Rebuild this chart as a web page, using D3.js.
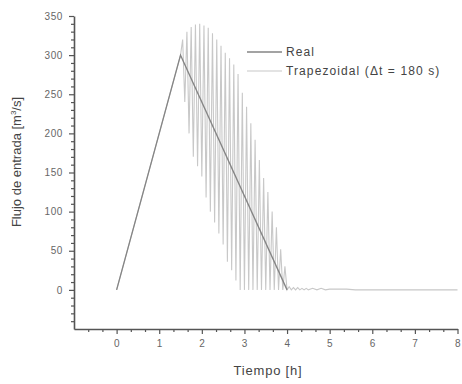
<!DOCTYPE html>
<html>
<head>
<meta charset="utf-8">
<script src="https://cdn.jsdelivr.net/npm/d3@7"></script>
<style>
  body { margin: 0; background: #fff; }
  svg { display: block; font-family: Arial, "Liberation Sans", sans-serif; }
  .axis path, .axis line { stroke: #555; }
  .axis text { fill: #666; font-size: 10px; letter-spacing: 0.6px; }
  .axis-title { fill: #444; font-size: 13px; }
  .legend text { fill: #444; font-size: 12px; letter-spacing: 1.1px; }
</style>
</head>
<body>
<svg width="462" height="384"></svg>
<script>
// Real hydrograph (triangular)
var realTime = [0, 1.5, 4];
var realFlow = [0, 300, 0];

// Trapezoidal routing, dt = 180 s (0.05 h)
var trapTime = [0, 1.5,
  1.55, 1.60, 1.65, 1.70, 1.75, 1.80, 1.85, 1.90, 1.95, 2.00,
  2.05, 2.10, 2.15, 2.20, 2.25, 2.30, 2.35, 2.40, 2.45, 2.50,
  2.55, 2.60, 2.65, 2.70, 2.75, 2.80, 2.85, 2.90, 2.95, 3.00,
  3.05, 3.10, 3.15, 3.20, 3.25, 3.30, 3.35, 3.40, 3.45, 3.50,
  3.55, 3.60, 3.65, 3.70, 3.75, 3.80, 3.85, 3.90, 3.95, 4.00,
  4.05, 4.10, 4.15, 4.20, 4.25, 4.30, 4.35, 4.40, 4.45, 4.50,
  4.60, 4.70, 4.80, 4.90, 5.00, 5.20, 5.40, 5.60, 8.00];
var trapFlow = [0, 300,
  320, 240, 330, 200, 336, 170, 339, 158, 340, 145,
  338, 118, 335, 100, 328, 86, 320, 72, 312, 58,
  303, 36, 296, 25, 288, 12, 276, 0, 252, 0,
  234, 0, 213, 0, 192, 0, 166, 0, 143, 0,
  125, 0, 100, 0, 80, 0, 52, 0, 30, 0,
  4, 0, 3, 0, 3, 0, 2, 0, 2, 0,
  2, 0, 2, 0, 1, 1, 1, 0, 0];

var xMajor = [0, 1, 2, 3, 4, 5, 6, 7, 8];
var yMajor = [0, 50, 100, 150, 200, 250, 300, 350];

var svg = d3.select('svg');

var xScale = d3.scaleLinear().domain([-1, 8]).range([74, 457.5]);
var yScale = d3.scaleLinear().domain([-50, 350]).range([329, 16]);

var xMinor = d3.range(-1, 8.01, 1 / 3).filter(function(d) {
  return Math.abs(d - Math.round(d)) > 0.01;
});
var yMinor = d3.range(-50, 351, 10).filter(function(d) { return d % 50 !== 0; });

// minor ticks
svg.append('g')
  .attr('class', 'axis')
  .attr('transform', 'translate(0,' + yScale(-50) + ')')
  .call(d3.axisBottom(xScale).tickValues(xMinor).tickSize(3).tickFormat(''))
  .select('.domain').remove();
svg.append('g')
  .attr('class', 'axis')
  .attr('transform', 'translate(' + xScale(-1) + ',0)')
  .call(d3.axisLeft(yScale).tickValues(yMinor).tickSize(3).tickFormat(''))
  .select('.domain').remove();

// major ticks + lines
svg.append('g')
  .attr('class', 'axis')
  .attr('transform', 'translate(0,' + yScale(-50) + ')')
  .call(d3.axisBottom(xScale).tickValues(xMajor).tickSize(5).tickSizeOuter(0).tickPadding(6));
svg.append('g')
  .attr('class', 'axis')
  .attr('transform', 'translate(' + xScale(-1) + ',0)')
  .call(d3.axisLeft(yScale).tickValues(yMajor).tickSize(5).tickSizeOuter(0).tickPadding(6));
svg.selectAll('.axis .domain').attr('stroke-width', 1.6);
svg.selectAll('.axis line').attr('stroke-width', 1.2);

// axis titles
svg.append('text')
  .attr('class', 'axis-title')
  .attr('x', 268).attr('y', 375)
  .attr('text-anchor', 'middle')
  .style('letter-spacing', '0.8px')
  .text('Tiempo [h]');

var yt = svg.append('text')
  .attr('class', 'axis-title')
  .attr('transform', 'translate(21,162) rotate(-90)')
  .attr('text-anchor', 'middle');
yt.append('tspan').text('Flujo de entrada [m');
yt.append('tspan').attr('dy', -5).attr('font-size', '8px').text('3');
yt.append('tspan').attr('dy', 5).text('/s]');

var line = d3.line()
  .x(function(d) { return xScale(d[0]); })
  .y(function(d) { return yScale(d[1]); });

var trapData = trapTime.map(function(t, i) { return [t, trapFlow[i]]; });
var realData = realTime.map(function(t, i) { return [t, realFlow[i]]; });

svg.append('path')
  .datum(trapData)
  .attr('fill', 'none')
  .attr('stroke', '#c8c8c8')
  .attr('stroke-width', 1.1)
  .attr('d', line);

svg.append('path')
  .datum(realData)
  .attr('fill', 'none')
  .attr('stroke', '#858585')
  .attr('stroke-width', 1.3)
  .attr('d', line);

// legend
var legend = svg.append('g').attr('class', 'legend');
var legendItems = [
  {label: 'Real', color: '#858585', w: 1.3},
  {label: 'Trapezoidal (\u0394t = 180 s)', color: '#c8c8c8', w: 1.1}
];
legendItems.forEach(function(d, i) {
  var y = 52 + i * 19;
  legend.append('line')
    .attr('x1', 247).attr('x2', 282)
    .attr('y1', y).attr('y2', y)
    .attr('stroke', d.color).attr('stroke-width', d.w);
  legend.append('text')
    .attr('x', 286).attr('y', y + 4)
    .text(d.label);
});
</script>
</body>
</html>
